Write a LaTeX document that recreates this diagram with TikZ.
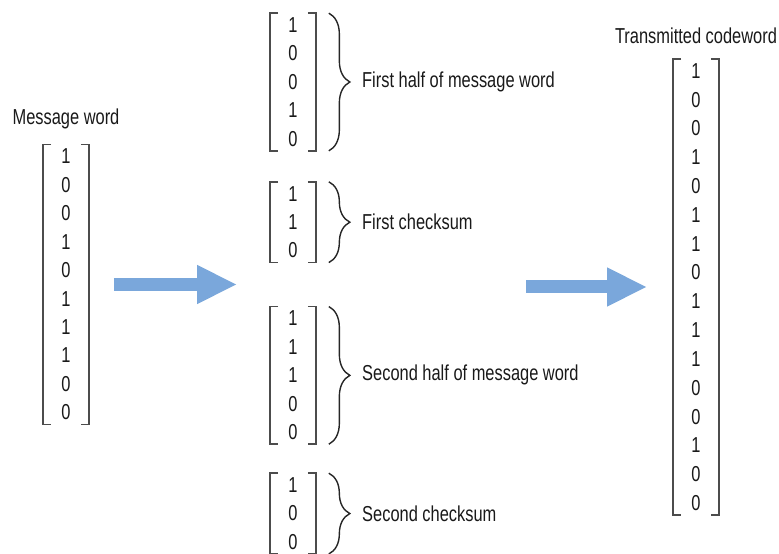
\documentclass[tikz,border=0pt]{standalone}
\usepackage{fontspec}
\setmainfont[FakeStretch=0.76]{Liberation Sans}
\usepackage{xcolor}
\definecolor{arrowblue}{RGB}{122,167,219}
\usetikzlibrary{arrows.meta,positioning,decorations.pathreplacing}

\begin{document}
\begin{tikzpicture}[
  bitvec/.style={minimum width=0.9cm,inner xsep=0pt,inner ysep=0.08cm,align=center,
    font=\fontsize{12.3pt}{16.2pt}\selectfont,text=black!90},
  lbltext/.style={inner sep=0pt,font=\fontsize{12.3pt}{14pt}\selectfont,text=black!90},
  bracketline/.style={draw=black!70,line width=1pt},
  bracedeco/.style={draw=black!85,line width=0.8pt,decorate,decoration={brace,amplitude=0.42cm}},
  bigarrow/.style={draw=arrowblue,line width=0.26cm,-{Triangle[length=0.8cm 0,width=0.72cm 0]}}]
  \useasboundingbox (0,0) rectangle (15.58,11.08);
  % message word
  \node[bitvec] (msg) at (1.32,5.39) {1\\0\\0\\1\\0\\1\\1\\1\\0\\0};
  \node[lbltext,above=0.3cm of msg] (msgtitle) {Message word};
  % halves and checksums
  \node[bitvec] (half1) at (5.86,9.44) {1\\0\\0\\1\\0};
  \node[bitvec,below=0.62cm of half1] (chk1) {1\\1\\0};
  \node[bitvec,below=0.88cm of chk1] (half2) {1\\1\\1\\0\\0};
  \node[bitvec,below=0.58cm of half2] (chk2) {1\\0\\0};
  \node[lbltext,right=0.92cm of half1] (half1lbl) {First half of message word};
  \node[lbltext,right=0.92cm of chk1] (chk1lbl) {First checksum};
  \node[lbltext,right=0.92cm of half2] (half2lbl) {Second half of message word};
  \node[lbltext,right=0.92cm of chk2] (chk2lbl) {Second checksum};
  % codeword
  \node[bitvec,font=\fontsize{12.3pt}{16.4pt}\selectfont] (code) at (13.92,5.34) {1\\0\\0\\1\\0\\1\\1\\0\\1\\1\\1\\0\\0\\1\\0\\0};
  \node[lbltext,above=0.3cm of code] (codetitle) {Transmitted codeword};

  \foreach \v in {msg,half1,chk1,half2,chk2,code}
    \draw[bracketline] ([xshift=0.16cm]\v.north west) -- (\v.north west) -- (\v.south west) -- ([xshift=0.16cm]\v.south west)
      ([xshift=-0.16cm]\v.north east) -- (\v.north east) -- (\v.south east) -- ([xshift=-0.16cm]\v.south east);
  \foreach \v in {half1,chk1,half2,chk2}
    \draw[bracedeco] ([xshift=0.26cm]\v.north east) -- ([xshift=0.26cm]\v.south east);

  \draw[bigarrow] ([xshift=0.5cm]msg.east) -- ([xshift=-0.66cm]msg.east -| half1.west);
  \draw[bigarrow] ([xshift=-2.94cm]code.west) -- ([xshift=-0.52cm]code.west);
\end{tikzpicture}
\end{document}
